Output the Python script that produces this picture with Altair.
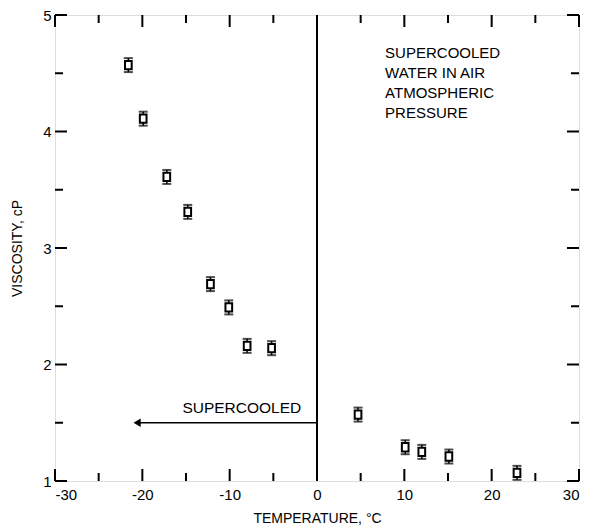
import altair as alt
import pandas as pd

# data
temp = [-21.6, -19.9, -17.2, -14.8, -12.2, -10.1, -8.0, -5.2, 4.7, 10.1, 12.0, 15.1, 22.9]
visc = [4.57, 4.11, 3.61, 3.31, 2.69, 2.49, 2.16, 2.14, 1.57, 1.29, 1.25, 1.21, 1.07]
err = [0.06] * 13

x_major = [-30, -20, -10, 0, 10, 20, 30]
x_minor = [-25, -15, -5, 5, 15, 25]
y_major = [1, 2, 3, 4, 5]
y_minor = [1.5, 2.5, 3.5, 4.5]

note_lines = ["SUPERCOOLED", "WATER IN AIR", "ATMOSPHERIC", "PRESSURE"]
note_y = [4.67, 4.50, 4.33, 4.16]

W, H = 524, 466
FONT = "Liberation Sans"

df = pd.DataFrame({"t": temp, "v": visc, "lo": [a - b for a, b in zip(visc, err)],
                   "hi": [a + b for a, b in zip(visc, err)]})

xs = alt.Scale(domain=[-30, 30], nice=False, zero=False)
ys = alt.Scale(domain=[1, 5], nice=False, zero=False)

X = alt.X("t:Q", scale=xs, axis=alt.Axis(values=x_major, title="TEMPERATURE, °C", domain=False, ticks=False,
                                        grid=False, labelPadding=6, labelFontSize=15, labelFont=FONT,
                                        labelExpr="datum.value + ''",
                                        labelColor="black", titleFont=FONT, titleFontSize=14,
                                        titleFontWeight="normal", titleColor="black", titlePadding=9))
Y = alt.Y("v:Q", scale=ys, axis=alt.Axis(values=y_major, title="VISCOSITY, cP", domain=False, ticks=False,
                                        grid=False, labelPadding=4, labelFontSize=15, labelFont=FONT,
                                        labelExpr="datum.value + ''",
                                        labelColor="black", titleFont=FONT, titleFontSize=14,
                                        titleFontWeight="normal", titleColor="black", titlePadding=18))

base = alt.Chart(df)
bars = base.mark_rule(color="black", strokeWidth=1.5).encode(x=X, y=Y, y2="hi:Q")
bars2 = base.mark_rule(color="black", strokeWidth=1.5).encode(x="t:Q", y="lo:Q", y2="v:Q")
caps_hi = base.mark_tick(color="black", orient="horizontal", size=9, thickness=2).encode(x="t:Q", y="hi:Q")
caps_lo = base.mark_tick(color="black", orient="horizontal", size=9, thickness=2).encode(x="t:Q", y="lo:Q")
pts = base.mark_point(shape="M-0.8,-1L0.8,-1L0.8,1L-0.8,1Z", filled=True, fill="white", stroke="black",
                      strokeWidth=2, size=70, opacity=1).encode(x="t:Q", y="v:Q")

# vertical line at 0
vline = alt.Chart(pd.DataFrame({"t": [0]})).mark_rule(color="black", strokeWidth=2).encode(
    x="t:Q", y=alt.value(0), y2=alt.value(H))

# arrow
arr = pd.DataFrame({"t": [0], "t2": [-20.6], "v": [1.5]})
arrow_line = alt.Chart(arr).mark_rule(color="black", strokeWidth=1.5).encode(x="t:Q", x2="t2:Q", y="v:Q")
arrow_head = alt.Chart(arr).mark_point(shape="triangle-left", filled=True, color="black", size=70,
                                        opacity=1).encode(x="t2:Q", y="v:Q")
arrow_text = alt.Chart(pd.DataFrame({"t": [-1.8], "v": [1.56], "s": ["SUPERCOOLED"]})).mark_text(
    align="right", baseline="bottom", font=FONT, fontSize=15.5, color="black").encode(x="t:Q", y="v:Q", text="s:N")

note = alt.Chart(pd.DataFrame({"t": [7.8] * 4, "v": note_y, "s": note_lines})).mark_text(
    align="left", baseline="middle", font=FONT, fontSize=15, color="black").encode(x="t:Q", y="v:Q", text="s:N")

# ticks inside the frame
def xticks(vals, ln):
    d = alt.Chart(pd.DataFrame({"t": vals}))
    return [d.mark_rule(color="black", strokeWidth=2).encode(x="t:Q", y=alt.value(H - ln), y2=alt.value(H)),
            d.mark_rule(color="black", strokeWidth=2).encode(x="t:Q", y=alt.value(0), y2=alt.value(ln))]

def yticks(vals, ln):
    d = alt.Chart(pd.DataFrame({"v": vals}))
    return [d.mark_rule(color="black", strokeWidth=2).encode(y="v:Q", x=alt.value(0), x2=alt.value(ln)),
            d.mark_rule(color="black", strokeWidth=2).encode(y="v:Q", x=alt.value(W - ln), x2=alt.value(W))]

tick_layers = xticks(x_major, 12) + xticks(x_minor, 8) + yticks(y_major, 12) + yticks(y_minor, 8)

chart = alt.layer(bars, bars2, caps_hi, caps_lo, pts, vline, arrow_line, arrow_head, arrow_text, note,
                  *tick_layers).properties(
    width=W, height=H,
    autosize=alt.AutoSizeParams(type="none"),
    padding={"left": 47, "top": 7, "right": 2, "bottom": 49},
).configure_view(stroke="black", strokeWidth=2).configure(background="white")

chart.save("out.html", embed_options={"renderer": "svg", "actions": False})
